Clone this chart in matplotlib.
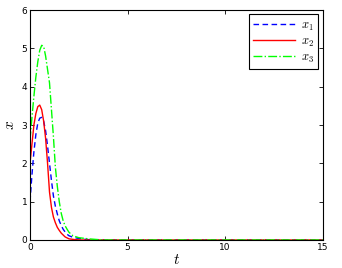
import matplotlib
matplotlib.use('Agg')
import matplotlib.pyplot as plt

plt.rcParams['mathtext.fontset'] = 'cm'

# valores
t1 = [0, 0.1, 0.2, 0.3, 0.4, 0.5, 0.6, 0.7, 0.8, 0.9, 1.0, 1.1, 1.2, 1.3, 1.4, 1.5,
      1.6, 1.7, 1.8, 1.9, 2.0, 2.2, 2.5, 3.0, 4.0, 15]
x1 = [1.0, 1.7, 2.3, 2.75, 3.05, 3.18, 3.2, 3.1, 2.85, 2.45, 2.0, 1.55, 1.15, 0.88, 0.68, 0.5,
      0.38, 0.28, 0.21, 0.15, 0.11, 0.07, 0.04, 0.01, 0.0, 0.0]

t2 = [0, 0.1, 0.2, 0.3, 0.4, 0.5, 0.6, 0.7, 0.8, 0.9, 1.0, 1.1, 1.2, 1.3, 1.4, 1.5,
      1.6, 1.8, 2.0, 2.3, 2.6, 15]
x2 = [2.0, 2.5, 3.0, 3.3, 3.48, 3.52, 3.4, 3.1, 2.65, 2.0, 1.25, 0.85, 0.6, 0.45, 0.33, 0.25,
      0.18, 0.08, 0.03, 0.01, 0.0, 0.0]

t3 = [0, 0.1, 0.2, 0.3, 0.4, 0.5, 0.6, 0.7, 0.8, 0.9, 1.0, 1.1, 1.2, 1.3, 1.4, 1.5,
      1.6, 1.7, 1.8, 1.9, 2.0, 2.2, 2.5, 3.0, 3.5, 4.0, 15]
x3 = [2.6, 3.2, 3.75, 4.25, 4.65, 4.95, 5.08, 5.05, 4.8, 4.45, 4.1, 3.4, 2.7, 1.9, 1.4, 1.0,
      0.7, 0.5, 0.37, 0.28, 0.2, 0.11, 0.06, 0.03, 0.01, 0.0, 0.0]

xticks = [0, 5, 10, 15]
yticks = [0, 1, 2, 3, 4, 5, 6]

fig = plt.figure(figsize=(3.42, 2.68), dpi=100)
ax = fig.add_axes([0.0877, 0.1045, 0.856, 0.858])

ax.plot(t1, x1, '--', color='#0000ff', lw=1.0, dashes=(4, 2.5), label='$x_1$')
ax.plot(t2, x2, '-', color='#ff0000', lw=1.0, label='$x_2$')
ax.plot(t3, x3, '-.', color='#00ff00', lw=1.0, label='$x_3$')

ax.set_xlim(0, 15)
ax.set_ylim(0, 6)
ax.set_xticks(xticks)
ax.set_yticks(yticks)
ax.tick_params(direction='in', top=True, right=True, labelsize=6.5, length=3, width=0.6, pad=2)
for s in ax.spines.values():
    s.set_linewidth(0.8)
ax.set_xlabel('$t$', fontsize=11, labelpad=0)
ax.set_ylabel('$x$', fontsize=11, labelpad=3)

leg = ax.legend(loc='upper right', fontsize=9, fancybox=False, edgecolor='black',
                framealpha=1, handlelength=3.3, borderaxespad=0.35, labelspacing=0.15,
                handletextpad=0.5, borderpad=0.35)
leg.get_frame().set_linewidth(0.8)

plt.savefig('out.png', dpi=100)
